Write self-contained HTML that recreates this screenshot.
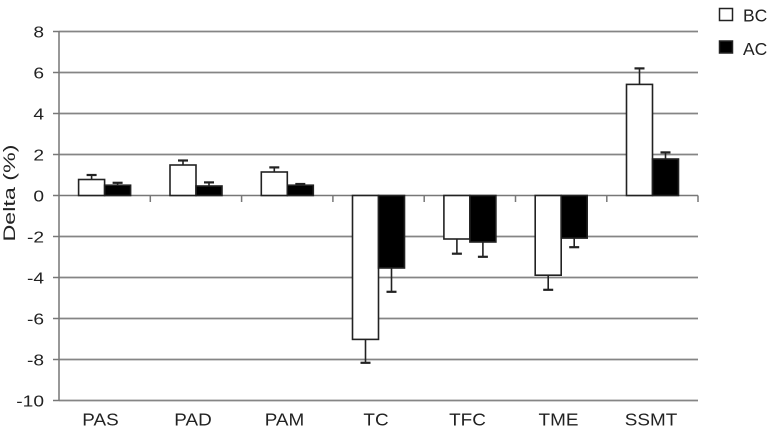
<!DOCTYPE html>
<html><head><meta charset="utf-8"><style>
html,body{margin:0;padding:0;background:#fff;}
svg{display:block;}
text{font-family:"Liberation Sans",Arial,sans-serif;fill:#222;}
</style></head><body>
<svg width="768" height="428" viewBox="0 0 768 428" xmlns="http://www.w3.org/2000/svg">
<rect width="768" height="428" fill="#fff"/>
<!-- gridlines -->
<g stroke="#858585" stroke-width="1.7">
<line x1="59" y1="31.5" x2="698" y2="31.5"/>
<line x1="59" y1="72.5" x2="698" y2="72.5"/>
<line x1="59" y1="113.5" x2="698" y2="113.5"/>
<line x1="59" y1="154.5" x2="698" y2="154.5"/>
<line x1="59" y1="236.5" x2="698" y2="236.5"/>
<line x1="59" y1="277.5" x2="698" y2="277.5"/>
<line x1="59" y1="318.5" x2="698" y2="318.5"/>
<line x1="59" y1="359.5" x2="698" y2="359.5"/>
<line x1="59" y1="400.5" x2="698" y2="400.5"/>
</g>
<!-- y axis -->
<g stroke="#777" stroke-width="1.5">
<line x1="59" y1="31" x2="59" y2="401"/>
<line x1="53" y1="31.5" x2="59" y2="31.5"/>
<line x1="53" y1="72.5" x2="59" y2="72.5"/>
<line x1="53" y1="113.5" x2="59" y2="113.5"/>
<line x1="53" y1="154.5" x2="59" y2="154.5"/>
<line x1="53" y1="195.5" x2="59" y2="195.5"/>
<line x1="53" y1="236.5" x2="59" y2="236.5"/>
<line x1="53" y1="277.5" x2="59" y2="277.5"/>
<line x1="53" y1="318.5" x2="59" y2="318.5"/>
<line x1="53" y1="359.5" x2="59" y2="359.5"/>
<line x1="53" y1="400.5" x2="59" y2="400.5"/>
<!-- zero line and category ticks -->
<line x1="59" y1="195.5" x2="698" y2="195.5"/>
<line x1="150.3" y1="195.5" x2="150.3" y2="202"/>
<line x1="241.6" y1="195.5" x2="241.6" y2="202"/>
<line x1="332.9" y1="195.5" x2="332.9" y2="202"/>
<line x1="424.2" y1="195.5" x2="424.2" y2="202"/>
<line x1="515.5" y1="195.5" x2="515.5" y2="202"/>
<line x1="606.8" y1="195.5" x2="606.8" y2="202"/>
<line x1="698" y1="195.5" x2="698" y2="202"/>
</g>
<!-- error bars -->
<g stroke="#222" stroke-width="1.6">
<line x1="91.6" y1="179.5" x2="91.6" y2="175"/><line x1="86.6" y1="175" x2="96.6" y2="175" stroke-width="2.2"/>
<line x1="117.6" y1="185.2" x2="117.6" y2="182.8"/><line x1="112.6" y1="182.8" x2="122.6" y2="182.8" stroke-width="2.2"/>
<line x1="183" y1="165" x2="183" y2="160.5"/><line x1="178" y1="160.5" x2="188" y2="160.5" stroke-width="2.2"/>
<line x1="209" y1="186" x2="209" y2="182.4"/><line x1="204" y1="182.4" x2="214" y2="182.4" stroke-width="2.2"/>
<line x1="274.3" y1="172" x2="274.3" y2="167.4"/><line x1="269.3" y1="167.4" x2="279.3" y2="167.4" stroke-width="2.2"/>
<line x1="300.3" y1="185.2" x2="300.3" y2="184"/><line x1="295.3" y1="184" x2="305.3" y2="184" stroke-width="2.2"/>
<line x1="365.5" y1="339.4" x2="365.5" y2="362.8"/><line x1="360.5" y1="362.8" x2="370.5" y2="362.8" stroke-width="2.2"/>
<line x1="391.5" y1="268" x2="391.5" y2="291.8"/><line x1="386.5" y1="291.8" x2="396.5" y2="291.8" stroke-width="2.2"/>
<line x1="456.9" y1="239" x2="456.9" y2="253.7"/><line x1="451.9" y1="253.7" x2="461.9" y2="253.7" stroke-width="2.2"/>
<line x1="482.9" y1="242" x2="482.9" y2="256.8"/><line x1="477.9" y1="256.8" x2="487.9" y2="256.8" stroke-width="2.2"/>
<line x1="548.2" y1="275.2" x2="548.2" y2="289.8"/><line x1="543.2" y1="289.8" x2="553.2" y2="289.8" stroke-width="2.2"/>
<line x1="574.2" y1="238.1" x2="574.2" y2="247.2"/><line x1="569.2" y1="247.2" x2="579.2" y2="247.2" stroke-width="2.2"/>
<line x1="639.5" y1="84.4" x2="639.5" y2="68.4"/><line x1="634.5" y1="68.4" x2="644.5" y2="68.4" stroke-width="2.2"/>
<line x1="665.5" y1="159" x2="665.5" y2="152.4"/><line x1="660.5" y1="152.4" x2="670.5" y2="152.4" stroke-width="2.2"/>
</g>
<!-- bars -->
<g stroke="#222" stroke-width="1.6">
<rect x="78.6" y="179.5" width="26" height="16" fill="#fff"/>
<rect x="104.6" y="185.2" width="26" height="10.3" fill="#000"/>
<rect x="170" y="165" width="26" height="30.5" fill="#fff"/>
<rect x="196" y="186" width="26" height="9.5" fill="#000"/>
<rect x="261.3" y="172" width="26" height="23.5" fill="#fff"/>
<rect x="287.3" y="185.2" width="26" height="10.3" fill="#000"/>
<rect x="352.5" y="195.5" width="26" height="143.9" fill="#fff"/>
<rect x="378.5" y="195.5" width="26" height="72.5" fill="#000"/>
<rect x="443.9" y="195.5" width="26" height="43.5" fill="#fff"/>
<rect x="469.9" y="195.5" width="26" height="46.5" fill="#000"/>
<rect x="535.2" y="195.5" width="26" height="79.7" fill="#fff"/>
<rect x="561.2" y="195.5" width="26" height="42.6" fill="#000"/>
<rect x="626.5" y="84.4" width="26" height="111.1" fill="#fff"/>
<rect x="652.5" y="159" width="26" height="36.5" fill="#000"/>
</g>
<!-- y tick labels -->
<g font-size="16" text-anchor="end">
<text transform="translate(44,37.3) scale(1.2,1)">8</text>
<text transform="translate(44,78.3) scale(1.2,1)">6</text>
<text transform="translate(44,119.3) scale(1.2,1)">4</text>
<text transform="translate(44,160.3) scale(1.2,1)">2</text>
<text transform="translate(44,201.3) scale(1.2,1)">0</text>
<text transform="translate(44,242.3) scale(1.2,1)">-2</text>
<text transform="translate(44,283.3) scale(1.2,1)">-4</text>
<text transform="translate(44,324.3) scale(1.2,1)">-6</text>
<text transform="translate(44,365.3) scale(1.2,1)">-8</text>
<text transform="translate(44,406.3) scale(1.2,1)">-10</text>
</g>
<!-- category labels -->
<g font-size="17.5" text-anchor="middle">
<text transform="translate(100.5,425.5) scale(1.08,1)">PAS</text>
<text transform="translate(193,425.5) scale(1.08,1)">PAD</text>
<text transform="translate(284.5,425.5) scale(1.08,1)">PAM</text>
<text transform="translate(376,425.5) scale(1.08,1)">TC</text>
<text transform="translate(467.5,425.5) scale(1.08,1)">TFC</text>
<text transform="translate(558.5,425.5) scale(1.08,1)">TME</text>
<text transform="translate(651,425.5) scale(1.08,1)">SSMT</text>
</g>
<!-- y axis title -->
<text font-size="17" text-anchor="middle" transform="translate(15,193) rotate(-90)" textLength="97" lengthAdjust="spacingAndGlyphs">Delta (%)</text>
<!-- legend -->
<rect x="719.5" y="8.5" width="13" height="12" fill="#fff" stroke="#222" stroke-width="1.5"/>
<rect x="719.5" y="41" width="13" height="12" fill="#000" stroke="#222" stroke-width="1.5"/>
<g font-size="17.5">
<text x="743" y="21.5">BC</text>
<text x="743" y="55">AC</text>
</g>
</svg>
</body></html>
